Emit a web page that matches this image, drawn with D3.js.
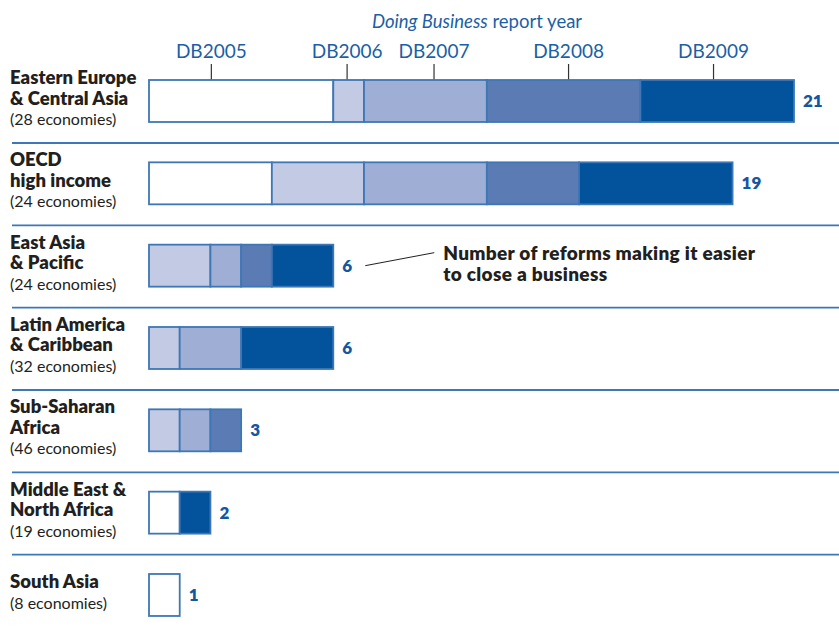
<!DOCTYPE html>
<html>
<head>
<meta charset="utf-8">
<script src="https://cdn.jsdelivr.net/npm/d3@7"></script>
<style>
	body { margin: 0; background: #fff; }
	svg { display: block; }
</style>
</head>
<body>
<div id="chart"></div>
<script>
//reform counts by region and Doing Business report year

var regionLines = [
	["Eastern Europe", "& Central Asia"],
	["OECD", "high income"],
	["East Asia", "& Pacific"],
	["Latin America", "& Caribbean"],
	["Sub-Saharan", "Africa"],
	["Middle East &", "North Africa"],
	["South Asia"]
];
var economies = [28, 24, 24, 32, 46, 19, 8];
var years = ["DB2005", "DB2006", "DB2007", "DB2008", "DB2009"];
var db2005 = [6, 4, 0, 0, 0, 1, 1];
var db2006 = [1, 3, 2, 1, 1, 0, 0];
var db2007 = [4, 4, 1, 2, 1, 0, 0];
var db2008 = [5, 3, 1, 0, 1, 0, 0];
var db2009 = [5, 5, 2, 3, 0, 1, 0];
//where each year label sits along the top bar, in number of reforms
var yearLabelAt = [2.03, 6.45, 9.28, 13.66, 18.38];

var colors = ["#ffffff", "#c3cae3", "#9eaed5", "#5b7bb5", "#02529c"];
var textDark = "#231f20";
var blue = "#1b5fa6";
var lineBlue = "#3e77b5";

var W = 839, H = 627;
var series = [db2005, db2006, db2007, db2008, db2009];
var rows = regionLines.map(function(lines, i){
	return { key: lines.join(" "), lines: lines, econ: economies[i], idx: i };
});
var totals = rows.map(function(r){
	return d3.sum(series, function(s){ return s[r.idx]; });
});

var svg = d3.select("#chart").append("svg")
	.attr("width", W)
	.attr("height", H)
	.style("font-family", "Lato, 'Open Sans', sans-serif");

var x = d3.scaleLinear().domain([0, 21]).range([149, 794]);
var y = d3.scaleBand()
	.domain(rows.map(function(r){ return r.key; }))
	.range([59, 59 + 82.33 * rows.length]);
var barH = 42;
var barTop = function(r){ return y(r.key) + 21; };

//stack the years
var stackRows = rows.map(function(r){
	var o = { key: r.key };
	years.forEach(function(yr, j){ o[yr] = series[j][r.idx]; });
	return o;
});
var stacked = d3.stack().keys(years)(stackRows);

//header
var header = svg.append("text")
	.attr("x", 477)
	.attr("y", 28)
	.attr("text-anchor", "middle")
	.attr("fill", blue)
	.style("font-size", "18.5px");
header.append("tspan").style("font-style", "italic").text("Doing Business");
header.append("tspan").text(" report year");

var hdr = svg.append("g").attr("class", "year-labels");
years.forEach(function(yr, j){
	var px = x(yearLabelAt[j]);
	hdr.append("text")
		.attr("x", px)
		.attr("y", 58)
		.attr("text-anchor", "middle")
		.attr("fill", blue)
		.style("font-size", "19px")
		.text(yr);
	hdr.append("line")
		.attr("x1", px).attr("x2", px)
		.attr("y1", 64).attr("y2", 80)
		.attr("stroke", "#333")
		.attr("stroke-width", 1.2);
});

//separator lines between regions
svg.append("g").selectAll("line")
	.data(rows.slice(0, rows.length - 1))
	.join("line")
	.attr("x1", 12).attr("x2", W)
	.attr("y1", function(r){ return barTop(r) + 63; })
	.attr("y2", function(r){ return barTop(r) + 63; })
	.attr("stroke", lineBlue)
	.attr("stroke-width", 1.8);

//bars
var layers = svg.append("g").selectAll("g")
	.data(stacked)
	.join("g")
	.attr("fill", function(d, i){ return colors[i]; });

layers.selectAll("rect")
	.data(function(d){ return d.filter(function(p){ return p[1] > p[0]; }); })
	.join("rect")
	.attr("x", function(p){ return x(p[0]); })
	.attr("width", function(p){ return x(p[1]) - x(p[0]); })
	.attr("y", function(p){ return y(p.data.key) + 21; })
	.attr("height", barH)
	.attr("stroke", lineBlue)
	.attr("stroke-width", 1.8);

//totals
svg.append("g").selectAll("text")
	.data(rows)
	.join("text")
	.attr("x", function(r){ return x(totals[r.idx]) + 9; })
	.attr("y", function(r){ return barTop(r) + barH / 2 + 6; })
	.attr("fill", "#1556a0")
	.style("font-size", "17px")
	.style("font-weight", 800)
	.text(function(r){ return totals[r.idx]; });

//region labels
var labels = svg.append("g").selectAll("text")
	.data(rows)
	.join("text")
	.attr("x", 10)
	.attr("y", function(r){
		var n = r.lines.length + 1;
		return barTop(r) + barH / 2 - (n - 1) * 20.5 / 2 + 3.5;
	});
labels.each(function(r){
	var t = d3.select(this);
	r.lines.forEach(function(l, k){
		t.append("tspan")
			.attr("x", 10)
			.attr("dy", k == 0 ? 0 : 20.5)
			.attr("fill", textDark)
			.style("font-size", "18.5px")
			.style("font-weight", 800)
			.text(l);
	});
	t.append("tspan")
		.attr("x", 10)
		.attr("dy", 20.5)
		.attr("fill", textDark)
		.style("font-size", "16px")
		.text("(" + r.econ + " economies)");
});

//annotation on the East Asia total
var ea = rows[2];
var eaX = x(totals[ea.idx]) + 9;
var eaY = barTop(ea) + barH / 2;
svg.append("line")
	.attr("x1", eaX + 23).attr("y1", eaY)
	.attr("x2", eaX + 92).attr("y2", eaY - 13)
	.attr("stroke", textDark)
	.attr("stroke-width", 1);
var note = svg.append("text")
	.attr("x", eaX + 101)
	.attr("y", eaY - 6)
	.attr("fill", textDark)
	.style("font-size", "19px")
	.style("letter-spacing", "0.3px")
	.style("font-weight", 800);
note.append("tspan").attr("x", eaX + 101).text("Number of reforms making it easier");
note.append("tspan").attr("x", eaX + 101).attr("dy", 21.5).text("to close a business");
</script>
</body>
</html>
